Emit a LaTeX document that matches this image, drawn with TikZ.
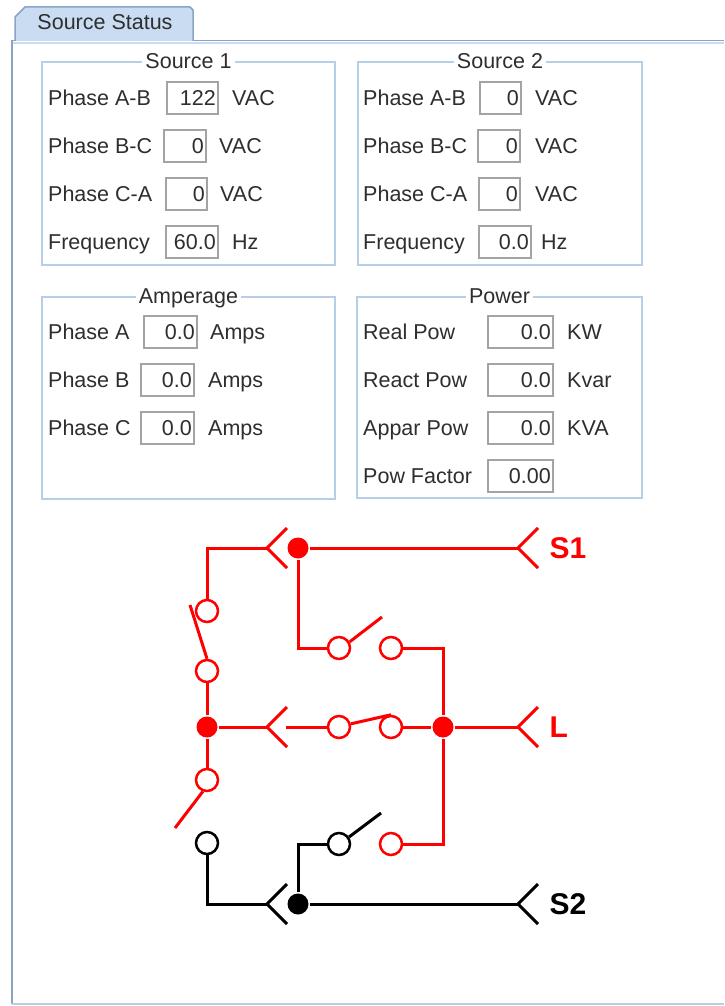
\documentclass[tikz,border=0pt]{standalone}
\usepackage{fontspec}
\setmainfont{Liberation Sans}
\definecolor{tabfill}{HTML}{C9DCF2}
\definecolor{tabline}{HTML}{8AA4C8}
\definecolor{grpline}{HTML}{B7CEE8}
\definecolor{fldline}{HTML}{A3A3A3}
\definecolor{txt}{HTML}{2E2E2E}

\begin{document}
\begin{tikzpicture}[x=1pt,y=-1pt,
  lbl/.style={anchor=base west,inner sep=0pt,text=txt,font=\fontsize{21.5}{24}\selectfont},
  val/.style={lbl,anchor=base east},
  ttl/.style={lbl,anchor=base,fill=white,inner xsep=3pt,inner ysep=1pt},
  grp/.style={draw=grpline,line width=1.5pt,inner sep=0pt},
  fld/.style={draw=fldline,line width=1.5pt,inner sep=0pt,anchor=west,minimum height=32pt},
  wire/.style={line width=3pt},
  ring/.style={circle,draw,fill=white,line width=2.5pt,minimum size=22pt,inner sep=0pt},
  dot/.style={circle,fill,minimum size=21pt,inner sep=0pt},
  tag/.style={anchor=west,inner sep=0pt,font=\fontsize{30}{30}\selectfont\bfseries}]
\useasboundingbox[fill=white] (0,0) rectangle (724,1006);

% tab and panel
\draw[tabline,fill=tabfill,line width=1.5pt] (15,41) -- (15,17) -- (25,7) -- (190,7) -- (193,10) -- (193,41);
\node[lbl,anchor=base] (tab) at (105,30) {Source Status};
\draw[tabline,line width=1.5pt] (193,40.5) -- (724,40.5) (15,40.5) -- (12,40.5) -- (12,1004);
\draw[tabfill,line width=2pt] (13,43.5) -- (724,43.5);
\draw[grpline,line width=1.5pt] (12,1004) -- (724,1004);

% group boxes
\foreach \g/\cx/\cy/\w/\h/\name in
  {
    src1/188.5/163.5/293/203/Source 1, src2/500/163.5/284/203/Source 2,
    amp/188.5/398/293/202/Amperage, pow/499.5/397.5/285/201/Power
  }
  {
    \node[grp,minimum width=\w pt,minimum height=\h pt] (\g) at (\cx,\cy) {};
    \node[ttl] (\g-t) at ([yshift=-7.5pt]\g.north) {\name};
  }

% rows of label, field, value and unit
\foreach \g/\lx/\n/\y/\lab/\fx/\fw/\v/\ux/\u in
  {
    src1/48/1/98/Phase A-B/166/51/122/232/VAC, src1/48/2/146/Phase B-C/163/42/0/219/VAC,
    src1/48/3/194/Phase C-A/165/41/0/220/VAC, src1/48/4/242/Frequency/165/52/60.0/232/Hz,
    src2/363/1/98/Phase A-B/479/41/0/535/VAC, src2/363/2/146/Phase B-C/477/42/0/535/VAC,
    src2/363/3/194/Phase C-A/478/41/0/535/VAC, src2/363/4/242/Frequency/478/52/0.0/541/Hz,
    amp/48/1/332/Phase A/143/53/0.0/210/Amps, amp/48/2/380/Phase B/140/53/0.0/208/Amps,
    amp/48/3/428/Phase C/140/53/0.0/208/Amps,
    pow/363/1/332/Real Pow/487/65/0.0/567/KW, pow/363/2/380/React Pow/487/65/0.0/567/Kvar,
    pow/363/3/428/Appar Pow/487/65/0.0/567/KVA
  }
  {
    \node[lbl] (\g-l\n) at (\lx,\y+7.5) {\lab};
    \node[fld,minimum width=\fw pt] (\g-f\n) at (\fx,\y) {};
    \node[val] (\g-v\n) at ([xshift=-2.5pt,yshift=-7.5pt]\g-f\n.east) {\v};
    \node[lbl] (\g-u\n) at (\ux,\y+7.5) {\u};
  }
\node[lbl] (pow-l4) at (363,483.5) {Pow Factor};
\node[fld,minimum width=65pt] (pow-f4) at (487,476) {};
\node[val] (pow-v4) at ([xshift=-2.5pt,yshift=-7.5pt]pow-f4.east) {0.00};

% transfer switch, red part
\begin{scope}[red,wire]
  \coordinate (v1) at (267,548);
  \node[dot] (d1) at (298,548) {};
  \coordinate (vs1) at (518,548);
  \node[tag] (s1) at (548,548) {S1};
  \node[ring] (a1) at (207,611) {};
  \coordinate (a1w) at (190,605);
  \node[ring] (a2) at (207,671) {};
  \node[dot] (d2) at (207,727) {};
  \node[ring] (a3) at (207,780) {};
  \coordinate (a3e) at (175,828);
  \node[ring] (m1) at (339,648) {};
  \coordinate (m1e) at (382,617);
  \node[ring] (m2) at (391,648) {};
  \node[dot] (d4) at (443,727) {};
  \coordinate (v2) at (267,727);
  \coordinate (l0) at (286,727);
  \node[ring] (l1) at (339,727) {};
  \node[ring] (l2) at (391,727) {};
  \coordinate (vl) at (518,727);
  \node[tag] (lt) at (548,727) {L};
  \node[ring] (r4) at (391,844) {};

  \draw (v1) -| (a1);
  \draw (d1) -- (vs1);
  \draw (a1w) -- (a2.north);
  \draw (a2) -- (d2) -- (a3);
  \draw (d2) -- (v2);
  \draw (a3.250) -- (a3e);
  \draw (d1) |- (m1);
  \draw (m1.30) -- (m1e);
  \draw (m2) -| (d4);
  \draw (l0) -- (l1);
  \draw (l1.15) -- (l2.north);
  \draw (l2) -- (d4) -- (vl);
  \draw (d4) |- (r4);
  \foreach \p in {v1,vs1,v2,vl}
    \draw (\p) ++(20,-20) -- (\p) -- ++(20,20);
\end{scope}

% black part
\begin{scope}[black,wire]
  \node[ring] (b1) at (207,843) {};
  \coordinate (v3) at (267,904);
  \node[dot] (d3) at (298,904) {};
  \coordinate (vs2) at (518,904);
  \node[tag] (s2) at (548,904) {S2};
  \node[ring] (b2) at (339,844) {};
  \coordinate (b2e) at (381,813);

  \draw (b1) |- (v3);
  \draw (d3) -- (vs2);
  \draw (d3) |- (b2);
  \draw (b2.35) -- (b2e);
  \foreach \p in {v3,vs2}
    \draw (\p) ++(20,-20) -- (\p) -- ++(20,20);
\end{scope}
\end{tikzpicture}
\end{document}
